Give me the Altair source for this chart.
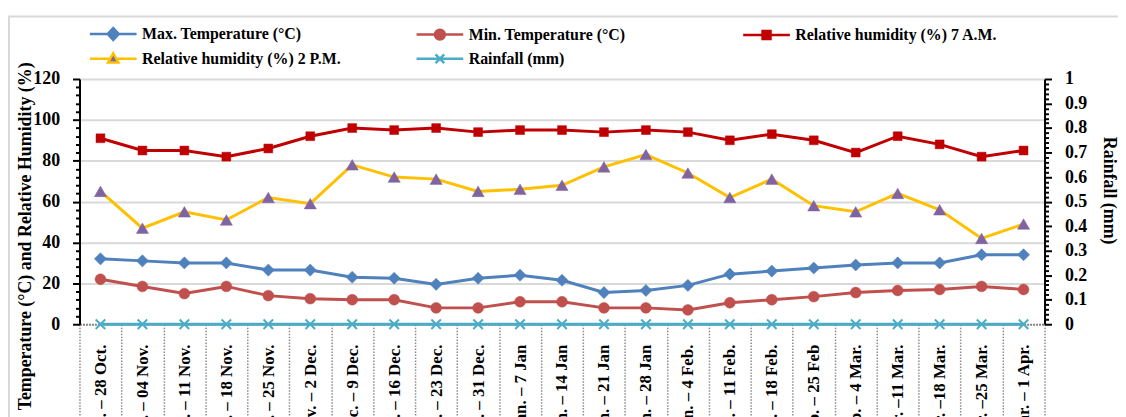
import altair as alt
import pandas as pd

SERIF = "Liberation Serif"

categories = ["22 Oct. – 28 Oct.", "29 Oct. – 04 Nov.", "05 Nov. – 11 Nov.", "12 Nov. – 18 Nov.",
              "19 Nov. – 25 Nov.", "26 Nov. – 2 Dec.", "3 Dec. – 9 Dec.", "10 Dec. – 16 Dec.",
              "17 Dec. – 23 Dec.", "24 Dec. – 31 Dec.", "1 Jan. – 7 Jan", "8 Jan. – 14 Jan",
              "15 Jan. – 21 Jan", "22 Jan. – 28 Jan", "29 Jan. – 4 Feb.", "5 Feb. – 11 Feb.",
              "12 Feb. – 18 Feb.", "19 Feb. – 25 Feb", "26 Feb. – 4 Mar.", "5 Mar. –11 Mar.",
              "12 Mar. –18 Mar.", "19 Mar. –25 Mar.", "26 Mar. – 1 Apr."]
max_temp = [32, 31, 30, 30, 26.5, 26.5, 23, 22.5, 19.5, 22.5, 24, 21.5, 15.5, 16.5, 19, 24.5, 26, 27.5, 29, 30, 30, 34, 34]
min_temp = [22, 18.5, 15, 18.5, 14, 12.5, 12, 12, 8, 8, 11, 11, 8, 8, 7, 10.5, 12, 13.5, 15.5, 16.5, 17, 18.5, 17]
rh_7am = [91, 85, 85, 82, 86, 92, 96, 95, 96, 94, 95, 95, 94, 95, 94, 90, 93, 90, 84, 92, 88, 82, 85]
rh_2pm = [65, 47, 55, 51, 62, 59, 78, 72, 71, 65, 66, 68, 77, 83, 74, 62, 71, 58, 55, 64, 56, 42, 49]
rainfall = [0, 0, 0, 0, 0, 0, 0, 0, 0, 0, 0, 0, 0, 0, 0, 0, 0, 0, 0, 0, 0, 0, 0]

series_names = ["Max. Temperature (°C)", "Min. Temperature (°C)", "Relative humidity (%) 7 A.M.",
                "Relative humidity (%) 2 P.M.", "Rainfall (mm)"]
line_colors = ["#4f81bd", "#c0504d", "#c00000", "#ffc000", "#4bacc6"]
marker_colors = ["#4f81bd", "#c0504d", "#c00000", "#8064a2", "#4bacc6"]

df = pd.DataFrame({"cat": categories, "max_temp": max_temp, "min_temp": min_temp,
                   "rh_7am": rh_7am, "rh_2pm": rh_2pm, "rainfall": rainfall})

# legend symbol paths (line + marker)
E = 4.875
m = 1.9375
def f(v):
    return f"{v:.4f}"
p_diamond = (f"M-1,0H{f(m-0.7)}M{f(m+0.7)},0H{E}"
             f"M{f(m)},-0.75L{f(m+0.7)},0L{f(m)},0.75L{f(m-0.7)},0Z")
r = 0.62
p_circle = (f"M-1,0H{f(m-r)}M{f(m+r)},0H{E}"
            f"M{f(m-r)},0A{r},{r} 0 1,1 {f(m+r)},0A{r},{r} 0 1,1 {f(m-r)},0Z")
h = 0.5
p_square = (f"M-1,0H{f(m-h)}M{f(m+h)},0H{E}"
            f"M{f(m-h)},-{h}H{f(m+h)}V{h}H{f(m-h)}Z")
p_triangle = (f"M-1,0H{f(m-0.38)}M{f(m+0.38)},0H{E}"
              f"M{f(m)},-0.68L{f(m+0.66)},0.5L{f(m-0.66)},0.5Z")
p_cross = (f"M-1,0H{E}M{f(m-0.55)},-0.55L{f(m+0.55)},0.55M{f(m-0.55)},0.55L{f(m+0.55)},-0.55")
legend_paths = [p_diamond, p_circle, p_square, p_triangle, p_cross]

xenc = alt.X("cat:N", sort=categories,
             scale=alt.Scale(type="band", paddingInner=0, paddingOuter=0),
             axis=alt.Axis(title=None, labelAngle=-90, labelFont=SERIF, labelFontSize=17,
                           labelFontWeight="bold", labelColor="black", labelPadding=-75,
                           labelLimit=400, labelOverlap=False, tickBand="extent", tickSize=95,
                           tickColor="#8c8c8c", tickWidth=1.5, tickDash=[1.5, 1.5],
                           domainColor="#808080", domainWidth=2, domainDash=[2, 1], grid=False))

major_l = "datum.value % 20 === 0"
left_axis = alt.Axis(values=list(range(0, 121, 4)), format="d",
                     labelExpr=f"{major_l} ? datum.label : ''",
                     tickSize={"condition": {"test": major_l, "value": 7}, "value": 4},
                     tickColor="black", tickWidth=2, domainColor="black", domainWidth=2,
                     grid=True, gridColor="#d9d9d9", gridWidth=2,
                     gridOpacity={"condition": {"test": f"{major_l} && datum.value > 0", "value": 1}, "value": 0},
                     labelFont=SERIF, labelFontSize=18, labelFontWeight="bold", labelColor="black",
                     labelPadding=13, labelOverlap=False,
                     title="Temperature (°C) and Relative Humidity (%)", titleFont=SERIF,
                     titleFontSize=18, titleFontWeight="bold", titleColor="black",
                     titleX=-45, titleY=158, titleAngle=270, titleBaseline="bottom")
left_scale = alt.Scale(domain=[0, 120], nice=False)

major_r = "round(datum.value * 100) % 10 === 0"
right_axis = alt.Axis(orient="right", values=[round(i * 0.02, 2) for i in range(51)], format=".1~f",
                      labelExpr=f"{major_r} ? datum.label : ''",
                      tickSize={"condition": {"test": major_r, "value": 7}, "value": 4},
                      tickColor="black", tickWidth=2, domainColor="black", domainWidth=2, grid=False,
                      labelFont=SERIF, labelFontSize=18, labelFontWeight="bold", labelColor="black",
                      labelPadding=13, labelOverlap=False,
                      title="Rainfall (mm)", titleFont=SERIF, titleFontSize=18, titleFontWeight="bold",
                      titleColor="black", titleX=55, titleY=112, titleAngle=90, titleBaseline="bottom")

base = alt.Chart(df)

def series_layer(col, idx, shape, size, filled=True):
    pt = dict(shape=shape, size=size, opacity=1)
    if filled:
        pt.update(filled=True, fill=marker_colors[idx], stroke=marker_colors[idx], strokeWidth=0.5)
    else:
        pt.update(filled=False, stroke=marker_colors[idx], strokeWidth=2)
    return base.mark_line(color=line_colors[idx], strokeWidth=3,
                          point=alt.OverlayMarkDef(**pt))

left_layers = []
for col, idx, shape, size in [("max_temp", 0, "diamond", 150), ("min_temp", 1, "circle", 120),
                              ("rh_7am", 2, "square", 80), ("rh_2pm", 3, "triangle-up", 150)]:
    left_layers.append(series_layer(col, idx, shape, size).encode(
        x=xenc, y=alt.Y(f"{col}:Q", scale=left_scale, axis=left_axis)))

legend_df = pd.DataFrame({"series": series_names})
legend_layer = alt.Chart(legend_df).mark_point(filled=True, opacity=1).encode(
    shape=alt.Shape("series:N", scale=alt.Scale(domain=series_names, range=legend_paths),
                    legend=alt.Legend(orient="none", legendX=9, legendY=-55, direction="horizontal",
                                      columns=3, gridAlign="all", columnPadding=67, rowPadding=3,
                                      symbolSize=256, symbolStrokeWidth=2.5, symbolOffset=0,
                                      labelOffset=35, labelFont=SERIF, labelFontSize=16,
                                      labelFontWeight="bold", labelColor="black", labelLimit=400,
                                      title=None, padding=0, symbolOpacity=1)),
    fill=alt.Fill("series:N", scale=alt.Scale(domain=series_names, range=marker_colors)),
    stroke=alt.Stroke("series:N", scale=alt.Scale(domain=series_names, range=line_colors)),
).transform_filter("false")

frame = alt.Chart(pd.DataFrame({"a": [0]})).mark_rect(
    fill="transparent", stroke="#d9d9d9", strokeWidth=2).encode(
    x=alt.value(-71), x2=alt.value(1200), y=alt.value(-63), y2=alt.value(500))

left_group = alt.layer(frame, *left_layers, legend_layer)

rain_layer = series_layer("rainfall", 4, "M-0.8,-0.8L0.8,0.8M-0.8,0.8L0.8,-0.8", 144, filled=False).encode(
    x=xenc, y=alt.Y("rainfall:Q", scale=alt.Scale(domain=[0, 1], nice=False), axis=right_axis))

chart = alt.layer(left_group, rain_layer).resolve_scale(y="independent").properties(
    width=972, height=247, autosize="none",
    padding={"left": 72, "top": 70, "right": 74, "bottom": 100},
    background="white",
).configure_view(strokeWidth=0)

chart.save("out.html", embed_options={"renderer": "svg", "actions": False})
